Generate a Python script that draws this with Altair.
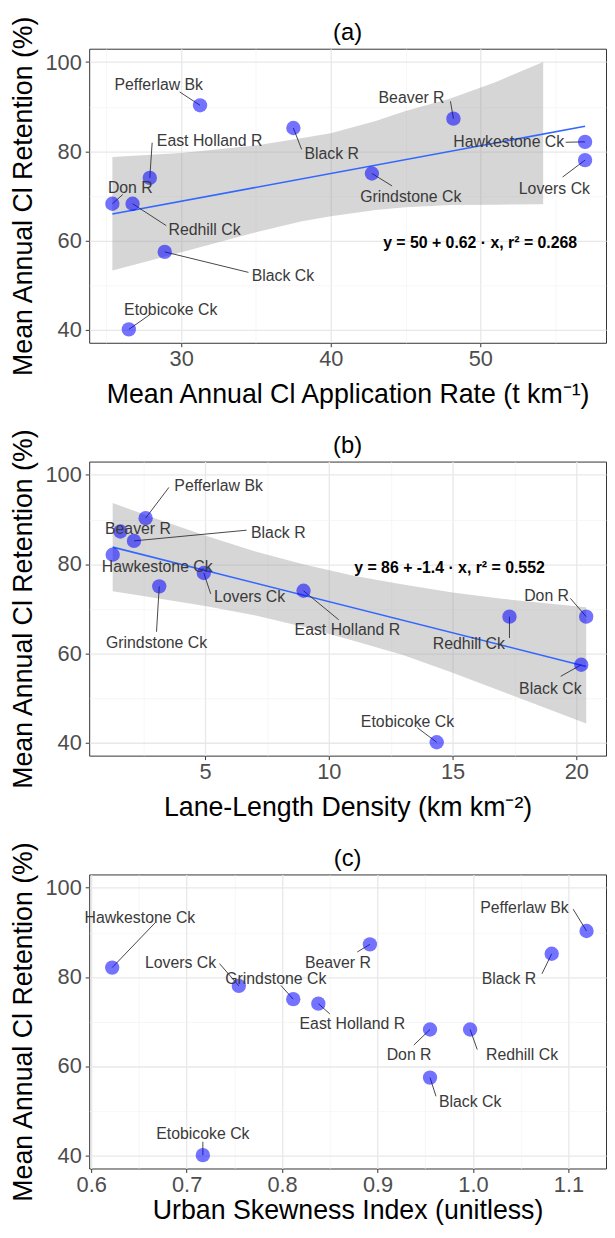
import altair as alt
import pandas as pd

# ---------------- data ----------------
sites = ["Pefferlaw Bk", "Beaver R", "Black R", "Hawkestone Ck", "Lovers Ck",
         "Grindstone Ck", "East Holland R", "Don R", "Redhill Ck", "Black Ck",
         "Etobicoke Ck"]
retention = [90.3, 87.3, 85.2, 82.1, 78.0, 75.0, 74.0, 68.2, 68.2, 57.4, 40.0]
app_rate = [31.26, 48.2, 37.5, 57.0, 57.0, 42.75, 27.9, 25.4, 26.75, 28.9, 26.5]
lane_density = [2.6, 1.58, 2.13, 1.27, 4.95, 3.15, 8.98, 20.4, 17.3, 20.2, 14.36]
skewness = [1.119, 0.892, 1.0825, 0.622, 0.7547, 0.8117, 0.838, 0.955, 0.997, 0.955, 0.717]

# repelled label centres and leader-line starts (panel a)
lab_a_x = [28.5, 45.4, 40.06, 51.9, 54.95, 45.35, 31.9, 26.6, 31.56, 36.8, 29.3]
lab_a_y = [94.9, 91.9, 79.3, 82.0, 71.4, 69.6, 82.2, 71.8, 62.2, 51.9, 44.4]
seg_a_x = [29.9, 48.0, 38.05, 55.7, 55.5, 44.1, 28.06, 26.1, 29.0, 34.5, 27.9]
seg_a_y = [93.3, 91.2, 80.4, 82.0, 74.2, 72.2, 81.9, 70.3, 63.3, 52.8, 43.3]
# panel b
lab_b_x = [5.55, 2.29, 7.96, 3.07, 6.8, 3.04, 10.75, 18.8, 15.66, 18.95, 13.18]
lab_b_y = [97.4, 87.9, 87.0, 79.3, 72.7, 62.2, 65.2, 72.8, 62.1, 51.9, 44.5]
seg_b_x = [3.54, 1.58, 6.68, 1.27, 5.23, 3.04, 10.4, 19.76, 17.3, 19.37, 13.57]
seg_b_y = [97.2, 87.3, 87.6, 82.1, 73.3, 64.8, 67.5, 72.3, 63.4, 54.8, 43.3]
# panel c
lab_c_x = [1.054, 0.8585, 1.0377, 0.651, 0.6936, 0.7934, 0.8736, 0.9331, 1.0514, 0.997, 0.717]
lab_c_y = [95.4, 83.1, 79.6, 93.3, 83.1, 79.6, 69.5, 62.4, 62.4, 51.9, 44.7]
seg_c_x = [1.105, 0.8788, 1.0723, 0.6672, 0.7344, 0.7987, 0.85, 0.938, 1.0045, 0.9613, 0.717]
seg_c_y = [95.2, 85.6, 80.7, 92.2, 83.0, 78.1, 71.7, 64.7, 63.7, 53.2, 43.0]

# confidence ribbons as drawn
ci_a_x = [25.4, 30, 35, 38, 40, 43, 45, 48, 51, 54.2]
ci_a_lo = [53.2, 57.3, 61.8, 64.2, 65.4, 66.8, 67.4, 67.9, 68.0, 68.1]
ci_a_hi = [78.7, 79.6, 81.3, 82.9, 84.0, 86.8, 89.0, 91.8, 95.5, 100.0]
ci_b_x = [1.27, 3, 5, 7, 9, 11, 13, 15, 17, 20.4]
ci_b_lo = [73.9, 72.4, 70.6, 68.5, 65.9, 62.8, 59.6, 55.6, 51.4, 44.2]
ci_b_hi = [93.7, 90.2, 86.4, 82.9, 79.9, 77.4, 75.4, 73.6, 72.2, 70.3]

eq_a = "y = 50 + 0.62 · x,  r² = 0.268"
eq_b = "y = 86 + -1.4 · x,  r² = 0.552"

FONT = "Liberation Sans"
W, H = 522, 297
YDOM = [37.0, 103.0]
YTEST = "datum.value % 20 == 0"


def grid_axis(values, test, title, fmt=None, **kw):
    lab = "datum.label" if fmt is None else f"format(datum.value, '{fmt}')"
    return alt.Axis(
        values=values,
        labelExpr=f"({test}) ? {lab} : ''",
        gridWidth={"condition": {"test": test, "value": 1.3}, "value": 0.6},
        gridColor={"condition": {"test": test, "value": "#e8e8e8"}, "value": "#f1f1f1"},
        tickOpacity={"condition": {"test": test, "value": 1}, "value": 0},
        title=title,
        **kw,
    )


def panel(xvals, lab_x, lab_y, seg_x, seg_y, xdom, xvalues, xtest, xtitle,
          ptitle, xtp, ci=None, eq=None, xfmt=None):
    df = pd.DataFrame({"site": sites, "x": xvals, "y": retention,
                       "lx": lab_x, "ly": lab_y, "sx": seg_x, "sy": seg_y})
    xs = alt.Scale(domain=xdom, nice=False, zero=False)
    ys = alt.Scale(domain=YDOM, nice=False, zero=False)
    xa = grid_axis(xvalues, xtest, xtitle, fmt=xfmt, labelPadding=2, titlePadding=xtp)
    ya = grid_axis([40, 50, 60, 70, 80, 90, 100], YTEST,
                   "Mean Annual Cl Retention (%)", labelPadding=4, titlePadding=8)

    def X(f):
        return alt.X(f, type="quantitative", scale=xs, axis=xa)

    def Y(f):
        return alt.Y(f, type="quantitative", scale=ys, axis=ya)

    base = alt.Chart(df)
    layers = []
    if ci is not None:
        cdf = pd.DataFrame({"x": ci[0], "lo": ci[1], "hi": ci[2]})
        layers.append(alt.Chart(cdf).mark_area(color="#999999", opacity=0.4)
                      .encode(x=X("x"), y=Y("lo"), y2="hi"))
        layers.append(base.transform_regression("x", "y")
                      .mark_line(color="#3366FF", strokeWidth=1.6)
                      .encode(x=X("x"), y=Y("y")))
    layers.append(base.mark_rule(color="#333333", strokeWidth=0.9)
                  .encode(x=X("sx"), y=Y("sy"), x2="x", y2="y"))
    layers.append(base.mark_circle(size=210, color="#0000ff", opacity=0.55)
                  .encode(x=X("x"), y=Y("y")))
    layers.append(base.mark_text(font=FONT, fontSize=16, color="#3a3a3a")
                  .encode(x=X("lx"), y=Y("ly"), text="site:N"))
    if eq is not None:
        edf = pd.DataFrame({"x": [eq[0]], "y": [eq[1]], "t": [eq[2]]})
        layers.append(alt.Chart(edf).mark_text(font=FONT, fontSize=16, fontWeight="bold",
                                               align="left", color="#000000")
                      .encode(x=X("x"), y=Y("y"), text="t:N"))
    return alt.layer(*layers).properties(
        width=W, height=H,
        title=alt.TitleParams(ptitle, fontSize=24, font=FONT, fontWeight="normal",
                              color="#000000", offset=-30, frame="group"))


pa = panel(app_rate, lab_a_x, lab_a_y, seg_a_x, seg_a_y, [23.85, 58.4],
           [25, 30, 35, 40, 45, 50, 55], "datum.value % 10 == 0",
           "Mean Annual Cl Application Rate (t km⁻¹)", "(a)", 12,
           ci=(ci_a_x, ci_a_lo, ci_a_hi), eq=(43.5, 59.3, eq_a))
pb = panel(lane_density, lab_b_x, lab_b_y, seg_b_x, seg_b_y, [0.32, 21.2],
           [2.5, 5, 7.5, 10, 12.5, 15, 17.5, 20], "datum.value % 5 == 0",
           "Lane-Length Density (km km⁻²)", "(b)", 12,
           ci=(ci_b_x, ci_b_lo, ci_b_hi), eq=(11.03, 79.1, eq_b))
pc = panel(skewness, lab_c_x, lab_c_y, seg_c_x, seg_c_y, [0.5979, 1.1394],
           [0.6, 0.65, 0.7, 0.75, 0.8, 0.85, 0.9, 0.95, 1.0, 1.05, 1.1],
           "abs(datum.value * 10 - round(datum.value * 10)) < 0.001",
           "Urban Skewness Index (unitless)", "(c)", 3, xfmt=".1f")

chart = alt.vconcat(pa, pb, pc, spacing=120).properties(
    bounds="flush",
    padding={"left": 0, "top": 0, "right": 0, "bottom": 0}
).configure_view(stroke="#333333", strokeWidth=1).configure_axis(
    labelFont=FONT, titleFont=FONT, labelFontSize=22, titleFontSize=27,
    labelColor="#4d4d4d", titleColor="#000000", titleFontWeight="normal",
    tickColor="#333333", tickSize=4, domain=False,
).configure_title(anchor="middle")

chart.save("out.html", embed_options={"renderer": "svg", "actions": False})
